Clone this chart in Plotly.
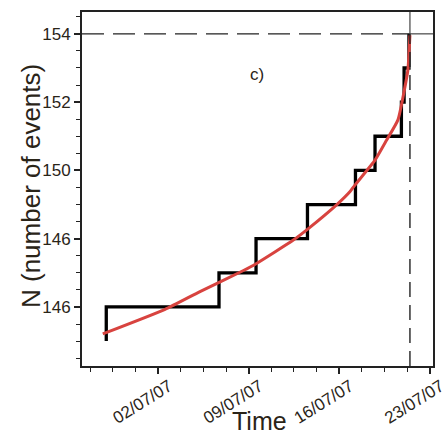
import plotly.graph_objects as go

# Observed events: cumulative count step function
event_times = ["2007-06-28 00:00", "2007-06-28 00:00", "2007-07-06 17:00", "2007-07-09 13:40",
               "2007-07-13 13:00", "2007-07-17 06:00", "2007-07-18 18:15", "2007-07-20 19:10",
               "2007-07-21 00:10", "2007-07-21 09:10"]
event_counts = [145, 146, 147, 148, 149, 150, 151, 152, 153, 154]

# Fitted (red) curve
fit_times = ["2007-06-27 17:30", "2007-07-02 13:00", "2007-07-05 05:45", "2007-07-08 13:30",
             "2007-07-09 13:00", "2007-07-12 10:50", "2007-07-13 13:30", "2007-07-15 19:00",
             "2007-07-16 20:00", "2007-07-17 05:00", "2007-07-18 18:15", "2007-07-19 15:50",
             "2007-07-20 12:45", "2007-07-21 01:40", "2007-07-21 07:10", "2007-07-21 11:00"]
fit_counts = [145.21, 145.93, 146.45, 147.06, 147.26, 147.96, 148.28, 148.99,
              149.38, 149.57, 150.30, 150.89, 151.48, 152.44, 152.94, 153.96]

# Critical time / final count
tc = "2007-07-21 11:00"
n_final = 154

x_range = ["2007-06-26 03:00", "2007-07-23 05:45"]
y_range = [144.27, 154.64]
y_tickvals = [146, 148, 150, 152, 154]
y_ticktext = ["146", "146", "150", "152", "154"]
x_tick0 = "2007-07-02"

FONT = "Liberation Sans, Arial, sans-serif"
TXT = "#2a2418"

W, H = 448, 434
ML, MR, MT, MB = 82, 15, 12, 68
plot_w = W - ML - MR
plot_h = H - MT - MB

fig = go.Figure()
fig.add_trace(go.Scatter(x=event_times, y=event_counts, mode="lines",
                         line=dict(color="black", width=3.3, shape="hv"),
                         showlegend=False, hoverinfo="skip"))
fig.add_trace(go.Scatter(x=fit_times, y=fit_counts, mode="lines",
                         line=dict(color="#d8433f", width=3, shape="spline", smoothing=0.5),
                         showlegend=False, hoverinfo="skip"))

# dashed lines
fig.add_shape(type="line", xref="x", yref="y", x0=x_range[0], x1=tc, y0=n_final, y1=n_final,
              line=dict(color="#222", width=1.4, dash="22px,9px"))
fig.add_shape(type="line", xref="x", yref="y", x0=tc, x1=tc, y0=y_range[0], y1=n_final,
              line=dict(color="#222", width=1.4, dash="15px,8px"))
# solid lines in the top-right corner
fig.add_shape(type="line", xref="x", yref="y", x0=tc, x1=x_range[1], y0=n_final, y1=n_final,
              line=dict(color="#444", width=1.2))
fig.add_shape(type="line", xref="x", yref="y", x0=tc, x1=tc, y0=n_final, y1=y_range[1],
              line=dict(color="#444", width=1.2))


def px_to_paper(px, py):
    return (px - ML) / plot_w, (H - MB - py) / plot_h


cx, cy = px_to_paper(257, 75)
fig.add_annotation(x=cx, y=cy, xref="paper", yref="paper", xanchor="center", yanchor="middle",
                   text="c)", showarrow=False, font=dict(family=FONT, size=17, color=TXT))
tx, ty = px_to_paper(259, 421)
fig.add_annotation(x=tx, y=ty, xref="paper", yref="paper", xanchor="center", yanchor="middle",
                   text="Time", showarrow=False, font=dict(family=FONT, size=25, color=TXT))
nx, ny = px_to_paper(31, 186)
fig.add_annotation(x=nx, y=ny, xref="paper", yref="paper", xanchor="center", yanchor="middle",
                   text="N (number of events)", showarrow=False, textangle=-90,
                   font=dict(family=FONT, size=26, color=TXT))

fig.update_layout(
    width=W, height=H,
    margin=dict(l=ML, r=MR, t=MT, b=MB),
    plot_bgcolor="white", paper_bgcolor="white",
    font=dict(family=FONT, color=TXT),
)
fig.update_xaxes(
    type="date", range=x_range, tick0=x_tick0, dtick=7 * 86400000,
    tickformat="%d/%m/%y", tickangle=-32, automargin=False,
    tickfont=dict(size=17, color=TXT),
    ticklabelshift=11, ticklabelstandoff=-4,
    ticks="outside", ticklen=6, tickwidth=1.5, tickcolor="#222",
    minor=dict(dtick=1.75 * 86400000, tick0=x_tick0, ticks="outside", ticklen=4,
               tickwidth=1.2, tickcolor="#222", showgrid=False),
    showline=True, linecolor="#222", linewidth=2, mirror=True,
    showgrid=False, zeroline=False,
)
fig.update_yaxes(
    range=y_range, tickvals=y_tickvals, ticktext=y_ticktext, automargin=False,
    tickfont=dict(size=17, color=TXT),
    ticks="outside", ticklen=6, tickwidth=1.5, tickcolor="#222",
    minor=dict(dtick=0.5, tick0=146, ticks="outside", ticklen=4, tickwidth=1.2,
               tickcolor="#222", showgrid=False),
    showline=True, linecolor="#222", linewidth=2, mirror=True,
    showgrid=False, zeroline=False,
)

fig.write_html("out.html", config={"displayModeBar": False},
               post_script="document.body.style.margin='0px';")
